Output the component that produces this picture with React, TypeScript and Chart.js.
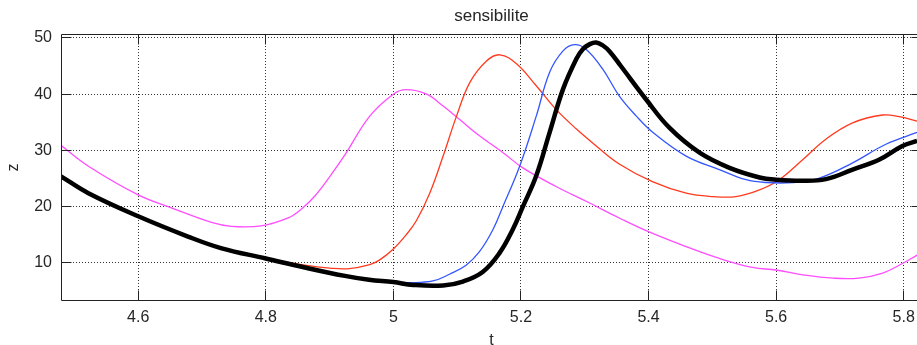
import React, { useEffect, useRef } from "react";
import { Chart, registerables } from "chart.js";

Chart.register(...registerables);

// axis limits (the right edge of the axes sits just outside the picture)
const xRange = [4.479, 5.8287];
const yRange = [3.24, 50.7];
const xTickValues = [4.6, 4.8, 5, 5.2, 5.4, 5.6, 5.8];
const yTickValues = [10, 20, 30, 40, 50];

const titleText = "sensibilite";
const xLabel = "t";
const yLabel = "z";

// thick black curve
const blackT = [4.479, 4.522, 4.6, 4.678, 4.731, 4.8, 4.861, 4.924, 4.962, 5.0, 5.031, 5.078, 5.109, 5.14, 5.166, 5.187, 5.203, 5.224, 5.245, 5.266, 5.287, 5.297, 5.308, 5.318, 5.328, 5.339, 5.356, 5.396, 5.433, 5.48, 5.527, 5.574, 5.6, 5.642, 5.678, 5.72, 5.762, 5.798, 5.821];
const blackZ = [25.4, 22.4, 18.3, 14.7, 12.6, 10.8, 9.2, 7.7, 7.0, 6.6, 6.1, 6.0, 6.7, 8.4, 11.7, 15.9, 20.0, 25.5, 33.2, 40.9, 46.3, 48.0, 48.9, 49.2, 48.7, 47.6, 45.1, 39.1, 34.0, 29.6, 26.9, 25.2, 24.8, 24.6, 24.9, 26.6, 28.4, 30.8, 31.7];

// blue curve
const blueT = [4.962, 5.0, 5.025, 5.062, 5.088, 5.114, 5.135, 5.156, 5.172, 5.198, 5.224, 5.245, 5.266, 5.284, 5.302, 5.328, 5.354, 5.381, 5.407, 5.459, 5.511, 5.553, 5.584, 5.626, 5.668, 5.72, 5.772, 5.821];
const blueZ = [7.0, 6.6, 6.5, 6.8, 8.0, 9.6, 12.0, 15.9, 20.1, 27.2, 36.1, 43.9, 47.7, 48.8, 48.0, 44.5, 39.7, 36.1, 33.2, 29.0, 26.6, 24.8, 24.3, 24.3, 25.1, 27.8, 31.1, 33.2];

// red curve
const redT = [4.731, 4.8, 4.861, 4.9, 4.931, 4.963, 4.978, 5.0, 5.02, 5.036, 5.057, 5.078, 5.099, 5.12, 5.146, 5.167, 5.193, 5.224, 5.255, 5.287, 5.318, 5.354, 5.407, 5.459, 5.501, 5.537, 5.574, 5.605, 5.642, 5.678, 5.72, 5.767, 5.793, 5.821];
const redZ = [12.6, 10.8, 9.6, 9.1, 9.0, 9.7, 10.5, 12.5, 15.0, 17.5, 22.4, 29.0, 36.1, 42.1, 45.9, 47.0, 45.4, 41.5, 37.3, 33.8, 30.8, 27.6, 24.4, 22.4, 21.8, 21.8, 23.0, 24.8, 28.4, 32.0, 34.9, 36.3, 36.0, 35.2];

// magenta curve
const magentaT = [4.479, 4.522, 4.6, 4.652, 4.715, 4.746, 4.793, 4.835, 4.856, 4.877, 4.9, 4.924, 4.963, 5.0, 5.02, 5.052, 5.078, 5.104, 5.135, 5.172, 5.203, 5.255, 5.307, 5.354, 5.399, 5.459, 5.511, 5.563, 5.6, 5.642, 5.689, 5.73, 5.767, 5.798, 5.821];
const magentaZ = [30.9, 27.2, 22.1, 19.8, 17.2, 16.5, 16.6, 18.0, 19.6, 21.9, 25.3, 29.2, 36.1, 40.0, 40.8, 40.0, 37.9, 35.5, 32.6, 29.6, 26.9, 23.6, 20.7, 18.0, 15.6, 12.9, 10.8, 9.2, 8.75, 7.9, 7.3, 7.3, 8.2, 9.9, 11.4];

const FONT = '"Liberation Sans", Arial, Helvetica, sans-serif';
const TEXT = "#262626";

function pts(t: number[], z: number[]) {
  return t.map((v, i) => ({ x: v, y: z[i] }));
}

const align = (p: number) => Math.round(p - 0.5) + 0.5;

const framePlugin = {
  id: "matlabFrame",
  afterDatasetsDraw(chart: any) {
    const { ctx, chartArea: a, scales } = chart;
    const x = scales.x;
    const y = scales.y;
    const L = Math.round(a.left) + 0.5;
    const R = Math.round(a.right) - 0.5;
    const T = Math.round(a.top) + 0.5;
    const B = Math.round(a.bottom) - 0.5;
    const len = 10;
    ctx.save();
    ctx.strokeStyle = "#222222";
    ctx.lineWidth = 1;
    ctx.setLineDash([]);
    ctx.beginPath();
    ctx.moveTo(L, T);
    ctx.lineTo(R, T);
    ctx.lineTo(R, B);
    ctx.lineTo(L, B);
    ctx.closePath();
    for (const v of xTickValues) {
      const px = align(x.getPixelForValue(v));
      ctx.moveTo(px, B);
      ctx.lineTo(px, B - len);
      ctx.moveTo(px, T);
      ctx.lineTo(px, T + len);
    }
    for (const v of yTickValues) {
      const py = align(y.getPixelForValue(v));
      ctx.moveTo(L, py);
      ctx.lineTo(L + len, py);
      ctx.moveTo(R, py);
      ctx.lineTo(R - len, py);
    }
    ctx.stroke();
    ctx.restore();
  },
};

export default function App() {
  const ref = useRef<HTMLCanvasElement>(null);
  useEffect(() => {
    document.body.style.margin = "0";
    document.body.style.overflow = "hidden";
    document.documentElement.style.overflow = "hidden";
    const common = {
      pointRadius: 0,
      fill: false,
      tension: 0.4,
      clip: 0,
    };
    const chart = new Chart(ref.current!, {
      type: "line",
      data: {
        datasets: [
          { label: "black", data: pts(blackT, blackZ), borderColor: "#000000", borderWidth: 4.5, ...common },
          { label: "blue", data: pts(blueT, blueZ), borderColor: "#3456ff", borderWidth: 1.3, ...common },
          { label: "red", data: pts(redT, redZ), borderColor: "#ff3a1e", borderWidth: 1.3, ...common },
          { label: "magenta", data: pts(magentaT, magentaZ), borderColor: "#ff4dff", borderWidth: 1.3, ...common },
        ],
      },
      options: {
        animation: false,
        responsive: false,
        devicePixelRatio: 1,
        layout: { padding: 0 },
        plugins: {
          legend: { display: false },
          tooltip: { enabled: false },
          title: { display: false },
        },
        scales: {
          x: {
            type: "linear",
            position: "bottom",
            min: xRange[0],
            max: xRange[1],
            afterBuildTicks: (s: any) => {
              s.ticks = xTickValues.map((v) => ({ value: v }));
            },
            ticks: {
              font: { family: FONT, size: 16 },
              color: TEXT,
              padding: 7,
              maxRotation: 0,
              autoSkip: false,
              callback: (v: any) => String(v),
            },
            grid: { color: "#333333", lineWidth: 1, drawTicks: false },
            border: { display: false, dash: [1, 2] },
            title: {
              display: true,
              text: xLabel,
              color: TEXT,
              font: { family: FONT, size: 16, lineHeight: 0.6 },
              padding: 0,
            },
            afterFit: (s: any) => {
              s.height = 44;
            },
          },
          x2: {
            type: "linear",
            position: "top",
            min: xRange[0],
            max: xRange[1],
            ticks: { display: false },
            grid: { display: false },
            border: { display: false },
            title: {
              display: true,
              text: titleText,
              color: TEXT,
              font: { family: FONT, size: 17, lineHeight: 1.2 },
              padding: { top: 6.5, bottom: 0 },
            },
            afterFit: (s: any) => {
              s.height = 34;
            },
          },
          y: {
            type: "linear",
            position: "left",
            min: yRange[0],
            max: yRange[1],
            afterBuildTicks: (s: any) => {
              s.ticks = yTickValues.map((v) => ({ value: v }));
            },
            ticks: {
              font: { family: FONT, size: 16 },
              color: TEXT,
              padding: 9,
              autoSkip: false,
              callback: (v: any) => String(v),
            },
            grid: { color: "#333333", lineWidth: 1, drawTicks: false },
            border: { display: false, dash: [1, 2] },
            title: {
              display: true,
              text: yLabel,
              color: TEXT,
              font: { family: FONT, size: 16, lineHeight: 1.2 },
              padding: { top: 4, bottom: 0 },
            },
            afterFit: (s: any) => {
              s.width = 61;
            },
          },
        },
      } as any,
      plugins: [framePlugin],
    });
    return () => chart.destroy();
  }, []);
  return (
    <canvas
      ref={ref}
      width={922}
      height={345}
      style={{ display: "block", width: 922, height: 345 }}
    />
  );
}
